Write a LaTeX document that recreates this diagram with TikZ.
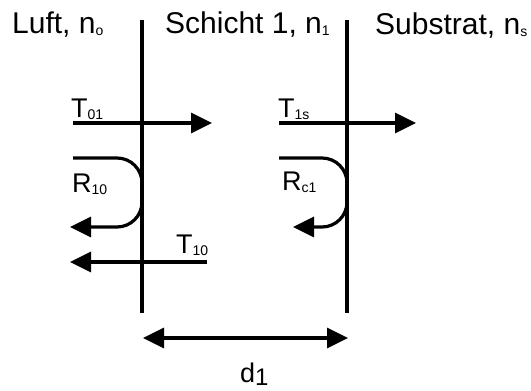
\documentclass[tikz,border=0pt]{standalone}
\usepackage{fontspec}
\setmainfont{Liberation Sans}
\usetikzlibrary{arrows.meta}
\newcommand{\lsub}[1]{\raisebox{-2pt}{\fontsize{14}{14}\selectfont #1}}

\begin{document}
\begin{tikzpicture}[x=1pt, y=-1pt,
	wall/.style={line width=3.2pt},
	ray/.style={line width=3.2pt, -{Triangle[length=21pt,width=20pt]}},
	lbl/.style={anchor=base west, inner sep=0pt, font=\fontsize{27}{30}\selectfont},
	head/.style={anchor=base west, inner sep=0pt, font=\fontsize{30}{34}\selectfont}]
	\useasboundingbox (0,0) rectangle (531,391);
	% media
	\node[head] (luft) at (12, 33) {Luft, n\lsub{o}};
	\node[head] (schicht) at (165, 33) {Schicht 1, n\lsub{1}};
	\node[head] (substrat) at (375, 34) {Substrat, n\lsub{s}};
	% interfaces
	\foreach \x/\n in {142/a, 347/b} {
		\coordinate (\n top) at (\x, 20);
		\coordinate (\n bot) at (\x, 313);
		\draw[wall] (\n top)--(\n bot);
	}
	% transmitted
	\coordinate (t01s) at (73, 123);
	\coordinate (t01e) at (212, 123);
	\draw[ray] (t01s)--(t01e);
	\node[lbl] (t01) at (71, 117) {T\lsub{01}};
	\coordinate (t1ss) at (279, 123);
	\coordinate (t1se) at (416, 123);
	\draw[ray] (t1ss)--(t1se);
	\node[lbl] (t1s) at (278, 117) {T\lsub{1s}};
	\coordinate (t10s) at (207, 262);
	\coordinate (t10e) at (70, 262);
	\draw[ray] (t10s)--(t10e);
	\node[lbl] (t10) at (176, 253) {T\lsub{10}};
	% reflected
	\coordinate (r10s) at (73, 158);
	\coordinate (r10e) at (70, 227);
	\draw[ray] (r10s)--(117, 158) arc (-90:0:25)--(142, 202) arc (0:90:25)--(r10e);
	\node[lbl] (r10) at (72, 192) {R\lsub{10}};
	\coordinate (rc1s) at (279, 158);
	\coordinate (rc1e) at (293, 227);
	\draw[ray] (rc1s)--(322, 158) arc (-90:0:25)--(347, 202) arc (0:90:25)--(rc1e);
	\node[lbl] (rc1) at (282, 190) {R\lsub{c1}};
	% thickness
	\coordinate (dl) at (143, 338);
	\coordinate (dr) at (348, 338);
	\draw[line width=3.2pt, {Triangle[length=21pt,width=20pt]}-{Triangle[length=21pt,width=20pt]}] (dl)--(dr);
	\node[lbl] (d) at (240, 382) {d\raisebox{-3pt}{\fontsize{24}{24}\selectfont 1}};
\end{tikzpicture}
\end{document}
